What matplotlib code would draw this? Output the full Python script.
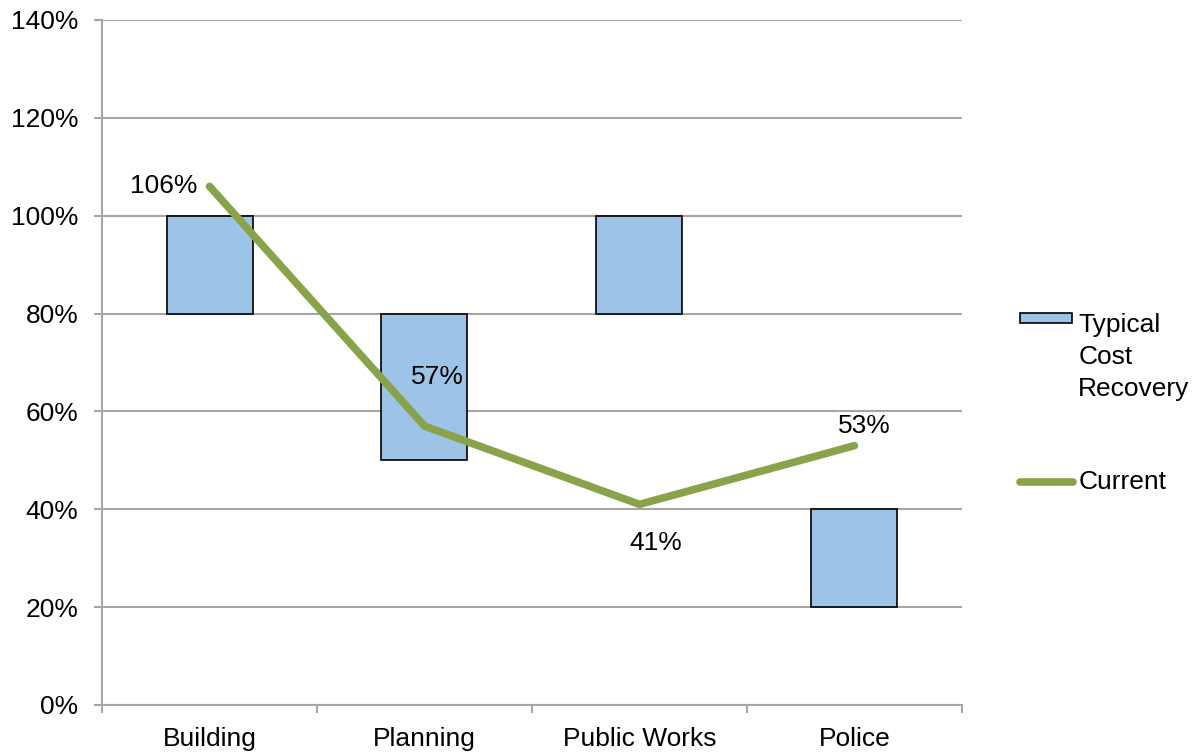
import matplotlib.pyplot as plt
from matplotlib.patches import Rectangle
from matplotlib.lines import Line2D
import numpy as np

plt.rcParams['font.family'] = ['Liberation Sans', 'DejaVu Sans']
plt.rcParams['font.size'] = 19

# data
categories = ['Building', 'Planning', 'Public Works', 'Police']
typical_low = [80, 50, 80, 20]
typical_high = [100, 80, 100, 40]
current = [106, 57, 41, 53]
current_labels = ['106%', '57%', '41%', '53%']

bar_color = '#9DC3E6'
line_color = '#89A34B'
grid_color = '#A6A6A6'

fig = plt.figure(figsize=(11.96, 7.54), dpi=100)
ax = fig.add_axes([0.0853, 0.065, 0.719, 0.9085])

x = np.arange(len(categories))
heights = np.array(typical_high) - np.array(typical_low)
ax.bar(x, heights, bottom=typical_low, width=0.4, color=bar_color,
       edgecolor='black', linewidth=1.2, zorder=2)
ax.plot(x, current, color=line_color, linewidth=5.5, solid_capstyle='round', zorder=3)

# data labels (offsets in points)
offsets = [(-33, 0), (9, 35), (12, -28), (7, 14)]
for xi, yi, lab, off in zip(x, current, current_labels, offsets):
    ax.annotate(lab, (xi, yi), xytext=off, textcoords='offset points',
                ha='center', va='center', zorder=4)

ax.set_xlim(-0.5, 3.5)
ax.set_ylim(0, 140)
ax.set_yticks(np.arange(0, 141, 20))
ax.set_yticklabels([f'{v}%' for v in range(0, 141, 20)])
ax.set_xticks(x)
ax.set_xticklabels(categories)
ax.set_xticks(np.arange(-0.5, 3.6, 1), minor=True)
ax.tick_params(axis='x', which='major', length=0, pad=16)
ax.tick_params(axis='x', which='minor', length=6, color=grid_color, width=1.5)
ax.tick_params(axis='y', length=6, color=grid_color, width=1.5, pad=11)
ax.grid(axis='y', color=grid_color, linewidth=1.5, zorder=0)
ax.set_axisbelow(True)
for s in ['top', 'right']:
    ax.spines[s].set_visible(False)
for s in ['left', 'bottom']:
    ax.spines[s].set_color(grid_color)
    ax.spines[s].set_linewidth(1.5)

# legend drawn by hand to keep the first line aligned with the patch
fig.patches.append(Rectangle((0.853, 0.5716), 0.043, 0.0133, transform=fig.transFigure,
                             facecolor=bar_color, edgecolor='black', linewidth=1.2))
fig.text(0.9015, 0.585, 'Typical\nCost\nRecovery', ha='left', va='top',
         linespacing=1.43)
fig.lines.append(Line2D([0.853, 0.897], [0.3607, 0.3607], transform=fig.transFigure,
                        color=line_color, linewidth=5.5, solid_capstyle='round'))
fig.text(0.9015, 0.3607, 'Current', ha='left', va='center')

fig.savefig('out.png', dpi=100)
